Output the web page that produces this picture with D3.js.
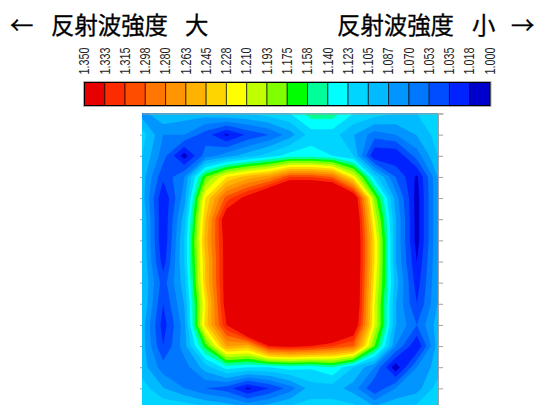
<!DOCTYPE html>
<html>
<head>
<meta charset="utf-8">
<script src="https://cdn.jsdelivr.net/npm/d3@7"></script>
<style>
  html, body { margin:0; padding:0; background:#fff; overflow:hidden; }
  svg { display:block; }
</style>
</head>
<body>
<div id="chart-container"></div>
<script>
// legend labels, high to low
const levelLabels = ["1.350","1.333","1.315","1.298","1.280","1.263","1.245","1.228","1.210","1.193","1.175","1.158","1.140","1.123","1.105","1.087","1.070","1.053","1.035","1.018","1.000"];
const levelColors = ["#e60000","#ff2b00","#ff4d00","#ff7700","#ff9500","#ffb300","#ffd500","#ffff00","#bfff00","#80ff00","#00ff00","#00ff99","#00ffff","#00d5ff","#00bbff","#0095ff","#0077ff","#004dff","#0022ff","#0000cc"];

// reflected wave intensity, 15 x 15 grid
const row00 = [1.079,1.105,1.096,1.096,1.105,1.105,1.114,1.123,1.149,1.149,1.123,1.114,1.105,1.105,1.114];
const row01 = [1.114,1.070,1.070,1.044,1.014,1.039,1.053,1.079,1.114,1.114,1.088,1.061,1.070,1.088,1.114];
const row02 = [1.105,1.061,1.009,1.061,1.079,1.096,1.114,1.131,1.131,1.123,1.105,1.018,1.018,1.061,1.105];
const row03 = [1.096,1.039,1.070,1.175,1.228,1.254,1.271,1.315,1.315,1.298,1.219,1.114,1.053,1.014,1.088];
const row04 = [1.096,1.018,1.079,1.228,1.306,1.345,1.394,1.438,1.438,1.438,1.368,1.184,1.079,1.009,1.088];
const row05 = [1.105,1.018,1.096,1.245,1.359,1.438,1.438,1.438,1.438,1.438,1.385,1.210,1.088,1.009,1.088];
const row06 = [1.105,1.018,1.105,1.254,1.350,1.438,1.438,1.438,1.438,1.438,1.385,1.228,1.088,1.009,1.088];
const row07 = [1.105,1.026,1.105,1.245,1.350,1.438,1.438,1.438,1.438,1.438,1.385,1.228,1.088,1.018,1.088];
const row08 = [1.105,1.044,1.096,1.245,1.350,1.438,1.438,1.438,1.438,1.438,1.385,1.219,1.096,1.026,1.088];
const row09 = [1.105,1.035,1.088,1.228,1.350,1.438,1.438,1.438,1.438,1.438,1.385,1.210,1.088,1.035,1.088];
const row10 = [1.096,1.026,1.079,1.236,1.333,1.438,1.438,1.438,1.438,1.438,1.368,1.210,1.088,1.053,1.096];
const row11 = [1.096,1.035,1.079,1.166,1.263,1.254,1.333,1.341,1.333,1.315,1.298,1.175,1.070,1.018,1.096];
const row12 = [1.096,1.061,1.061,1.096,1.131,1.123,1.123,1.131,1.126,1.140,1.105,1.070,1.005,1.070,1.096];
const row13 = [1.114,1.088,1.070,1.053,1.044,1.014,1.035,1.061,1.096,1.096,1.079,1.037,1.070,1.079,1.114];
const row14 = [1.123,1.123,1.123,1.114,1.105,1.096,1.105,1.114,1.114,1.114,1.114,1.096,1.105,1.114,1.123];
const rows = [row00,row01,row02,row03,row04,row05,row06,row07,row08,row09,row10,row11,row12,row13,row14];

const width = 534, height = 405;
const plot = {left:142, right:438, top:113.5, bottom:409.5};
const legend = {left:84.5, right:490, top:82.5, bottom:105.5};
const nGrid = rows.length;

const svg = d3.select("#chart-container")
  .append("svg")
  .attr("width", width)
  .attr("height", height)
  .attr("viewBox", `0 0 ${width} ${height}`);

// titles
const titles = [
  {t:"←", x:10}, {t:"反射波強度", x:51}, {t:"大", x:185},
  {t:"反射波強度", x:337}, {t:"小", x:472}, {t:"→", x:511}
];
svg.selectAll("text.title")
  .data(titles)
  .join("text")
    .attr("class", "title")
    .attr("x", d => d.x)
    .attr("y", 34)
    .style("font-family", "'Noto Sans CJK JP', sans-serif")
    .style("font-size", "23.4px")
    .style("fill", "#000")
    .style("stroke", "#000")
    .style("stroke-width", 0.3)
    .text(d => d.t);

// legend
const legendX = d3.scalePoint()
  .domain(levelLabels)
  .range([legend.left, legend.right]);

svg.append("g")
  .selectAll("rect")
  .data(levelColors)
  .join("rect")
    .attr("x", (d, i) => legendX(levelLabels[i]))
    .attr("y", legend.top)
    .attr("width", legendX.step())
    .attr("height", legend.bottom - legend.top)
    .attr("fill", d => d)
    .attr("stroke", "#000")
    .attr("stroke-opacity", 0.65)
    .attr("stroke-width", 1);

// gray halo and black outline round the legend
svg.append("rect")
  .attr("x", legend.left - 1)
  .attr("y", legend.top - 1)
  .attr("width", legend.right - legend.left + 2)
  .attr("height", legend.bottom - legend.top + 2)
  .attr("fill", "none")
  .attr("stroke", "#b0b0b0");
svg.append("rect")
  .attr("x", legend.left)
  .attr("y", legend.top)
  .attr("width", legend.right - legend.left)
  .attr("height", legend.bottom - legend.top)
  .attr("fill", "none")
  .attr("stroke", "#000");

const legendAxis = svg.append("g")
  .attr("transform", `translate(0,${legend.top - 8})`)
  .call(d3.axisTop(legendX).tickSize(0).tickPadding(0));
legendAxis.select(".domain").remove();
// labels in the picture are squeezed along the text direction
legendAxis.selectAll("text")
  .attr("transform", "translate(-1,0) rotate(-90) scale(0.72,1)")
  .attr("x", 0)
  .attr("y", 0)
  .attr("dy", "0.35em")
  .attr("text-anchor", "start")
  .style("font-family", "'Liberation Sans', sans-serif")
  .style("font-size", "15px")
  .style("fill", "#222");

// contour map
const values = rows.flat();
// inner levels only: 1.018 up to 1.333, ascending
const thresholds = d3.range(levelLabels.length - 2, 0, -1).map(i => +levelLabels[i]);
// band colours, low to high; the first one is the plot background
const bandColors = levelColors.slice().reverse();

// d3.contours puts grid points at cell centres, hence the half-cell domain
const x = d3.scaleLinear().domain([0.5, nGrid - 0.5]).range([plot.left, plot.right]);
const y = d3.scaleLinear().domain([0.5, nGrid - 0.5]).range([plot.top, plot.bottom]);

const contours = d3.contours()
  .size([nGrid, nGrid])
  .thresholds(thresholds)(values);

const path = d3.geoPath(d3.geoTransform({
  point(px, py) { this.stream.point(x(px), y(py)); }
}));

svg.append("clipPath").attr("id", "plot-clip")
  .append("rect")
    .attr("x", plot.left)
    .attr("y", plot.top)
    .attr("width", plot.right - plot.left)
    .attr("height", plot.bottom - plot.top);

const map = svg.append("g").attr("clip-path", "url(#plot-clip)");
map.append("rect")
  .attr("x", plot.left)
  .attr("y", plot.top)
  .attr("width", plot.right - plot.left)
  .attr("height", plot.bottom - plot.top)
  .attr("fill", bandColors[0]);
map.selectAll("path")
  .data(contours)
  .join("path")
    .attr("d", path)
    .attr("fill", (d, i) => bandColors[i + 1]);

// axes: plain gray frame with ticks, no labels
const tickIndex = d3.range(1, nGrid);
const rightAxis = svg.append("g")
  .attr("transform", `translate(${plot.right},0)`)
  .call(d3.axisRight(d3.scaleLinear().domain([0, nGrid - 1]).range([plot.top, plot.bottom]))
    .tickValues(tickIndex).tickSize(5).tickFormat(""));
const leftAxis = svg.append("g")
  .attr("transform", `translate(${plot.left},0)`)
  .call(d3.axisLeft(d3.scaleLinear().domain([0, nGrid - 1]).range([plot.top, plot.bottom]))
    .tickValues(tickIndex).tickSize(2).tickFormat(""));
leftAxis.select(".domain").remove();
const topAxis = svg.append("g")
  .attr("transform", `translate(0,${plot.top})`)
  .call(d3.axisTop(d3.scaleLinear().domain([0, 1]).range([plot.left, plot.right + 5])).tickValues([]).tickSize(0));
[rightAxis, leftAxis, topAxis].forEach(a => {
  a.selectAll("line").attr("stroke", "#a0a0a0");
  a.selectAll("path").attr("stroke", "#a0a0a0");
});
</script>
</body>
</html>
